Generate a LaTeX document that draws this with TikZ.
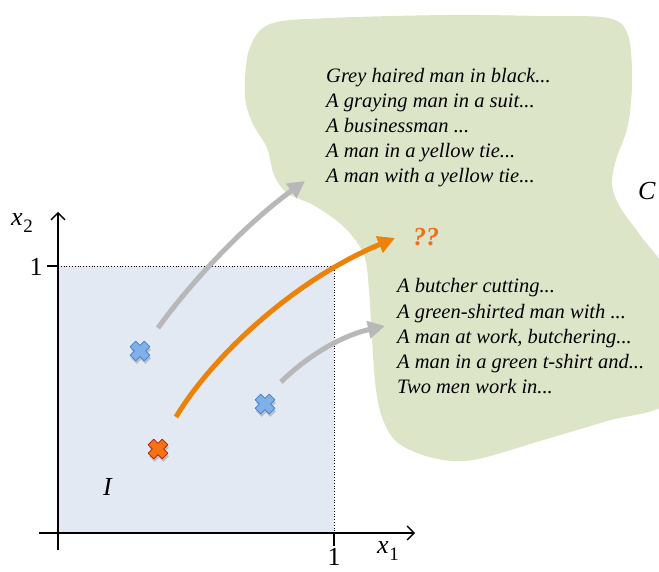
\documentclass[tikz,border=0pt]{standalone}
\usepackage{fontspec}
\setmainfont{Liberation Serif}
\usetikzlibrary{arrows.meta}
\definecolor{blobgreen}{RGB}{221,229,200}
\definecolor{boxblue}{RGB}{226,233,242}
\definecolor{arrgrey}{RGB}{184,184,184}
\definecolor{arrorange}{RGB}{236,130,8}
\definecolor{qorange}{RGB}{240,110,30}
\definecolor{xblue}{RGB}{128,176,232}
\definecolor{xblueb}{RGB}{70,125,200}
\definecolor{xorange}{RGB}{250,112,20}
\definecolor{xoranged}{RGB}{165,35,0}
\tikzset{
  axis/.style={line width=1.4pt,-{Straight Barb[length=7pt,width=14pt,line width=1.4pt]}},
  tick/.style={line width=1.2pt},
  bigarrow/.style={line width=5pt,-{Triangle[length=17pt,width=17pt]}},
  greyarrow/.style={bigarrow,arrgrey},
  orangearrow/.style={bigarrow,arrorange},
  capline/.style={font=\fontsize{20.5}{25}\selectfont\itshape,anchor=base west,inner sep=0pt},
  biglabel/.style={font=\fontsize{26}{30}\selectfont,inner sep=0pt},
  xmark/.pic={
    \fill[black,opacity=0.18,shift={(1,3)},rotate=45]
      (4,4)--(4,10)--(-4,10)--(-4,4)--(-10,4)--(-10,-4)--(-4,-4)--(-4,-10)--(4,-10)--(4,-4)--(10,-4)--(10,4)--cycle;
    \path[pic actions,rotate=45,line width=0.8pt,line join=round]
      (4,4)--(4,10)--(-4,10)--(-4,4)--(-10,4)--(-10,-4)--(-4,-4)--(-4,-10)--(4,-10)--(4,-4)--(10,-4)--(10,4)--cycle;
  }
}
\begin{document}
\begin{tikzpicture}[x=1pt,y=-1pt]
\useasboundingbox (0,0) rectangle (659,572);
\begin{scope}
\clip (0,0) rectangle (659,572);
\fill[blobgreen] plot[smooth cycle, tension=0.55] coordinates {
 (330,18) (450,15) (540,16) (608,18) (628,35) (632,80) (628,125) (616,160)
 (612,185) (620,207) (640,235) (668,275) (680,340) (668,402) (607,421)
 (540,441) (473,460) (433,458) (398,443) (383,420) (376,390) (372,340)
 (369,290) (364,255) (345,228) (315,206) (287,193) (274,175) (267,148)
 (252,122) (245,95) (249,50) (270,24)};
\end{scope}
% unit square
\fill[boxblue] (58,266) rectangle (334,533);
\coordinate (sqtl) at (58,266);
\coordinate (sqtr) at (334,266);
\coordinate (sqbr) at (334,533);
\draw[dotted,line width=0.8pt] (sqtl) -- (sqtr) -- (sqbr);
% axes
\coordinate (xa0) at (39,533);
\coordinate (xa1) at (415,533);
\coordinate (ya0) at (58,550);
\coordinate (ya1) at (58,212);
\draw[axis] (xa0) -- (xa1);
\draw[axis] (ya0) -- (ya1);
\coordinate (ty0) at (47,266);
\draw[tick] (ty0) -- (sqtl);
\coordinate (tx0) at (334,546);
\draw[tick] (sqbr) -- (tx0);
\node[biglabel] (one_y) at (36,267) {1};
\node[biglabel] (one_x) at (334,557) {1};
\node[biglabel] (lx1) at (388,551) {\textit{x}\kern0.5pt\raisebox{-0.28em}{\fontsize{19}{20}\selectfont 1}};
\node[biglabel] (lx2) at (22,223) {\textit{x}\kern0.5pt\raisebox{-0.28em}{\fontsize{19}{20}\selectfont 2}};
\node[biglabel] (lI) at (108,487) {\textit{I}};
\node[biglabel] (lC) at (647,191) {\textit{C}};
\node[biglabel,text=qorange,font=\fontsize{26}{30}\selectfont\bfseries\itshape] (lq) at (426,237) {??};
% captions
\node[capline] (a1) at (326,83) {Grey haired man in black...};
\node[capline] (a2) at (326,108) {A graying man in a suit...};
\node[capline] (a3) at (326,133) {A businessman ...};
\node[capline] (a4) at (326,158) {A man in a yellow tie...};
\node[capline] (a5) at (326,183) {A man with a yellow tie...};
\node[capline] (b1) at (397,293) {A butcher cutting...};
\node[capline] (b2) at (397,318) {A green-shirted man with ...};
\node[capline] (b3) at (397,343) {A man at work, butchering...};
\node[capline] (b4) at (397,368) {A man in a green t-shirt and...};
\node[capline] (b5) at (397,393) {Two men work in...};
% arrows
\coordinate (g1s) at (158,328);
\coordinate (g1e) at (305,181);
\coordinate (g2s) at (281,382);
\coordinate (g2e) at (385,326);
\coordinate (o1s) at (176,417);
\coordinate (o1e) at (395,238);
\draw[greyarrow] (g1s) .. controls (185,290) and (240,228) .. (g1e);
\draw[greyarrow] (g2s) .. controls (305,358) and (340,336) .. (g2e);
\draw[orangearrow] (o1s) .. controls (210,360) and (290,282) .. (o1e);
% points
\pic[fill=xblue,draw=xblueb] (p1) at (140,351) {xmark};
\pic[fill=xblue,draw=xblueb] (p2) at (265,404) {xmark};
\pic[fill=xorange,draw=xoranged] (p3) at (158,449) {xmark};
\end{tikzpicture}
\end{document}
